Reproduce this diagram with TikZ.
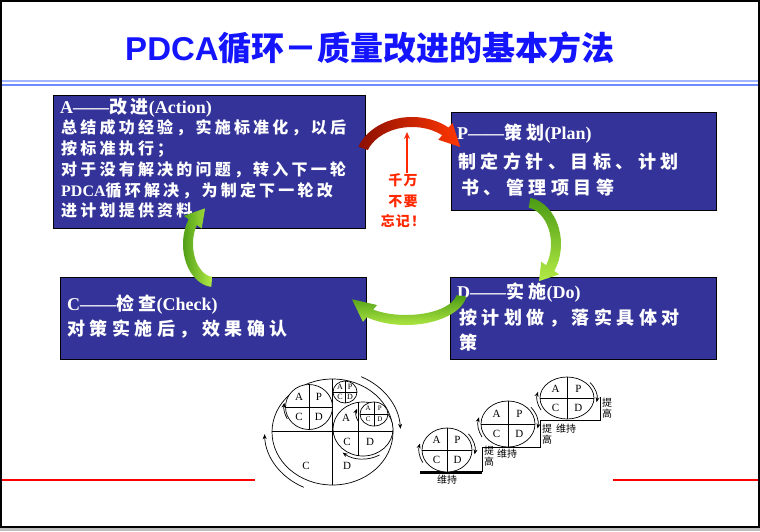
\documentclass[tikz,border=0pt]{standalone}
\usepackage{fontspec}
\setmainfont{Liberation Serif}
\newfontfamily\lsans{Liberation Sans}
\newfontfamily\cjk{Noto Sans CJK SC}
\newfontfamily\cjkA{Noto Sans CJK SC}[LetterSpace=20]
\newfontfamily\cjkB{Noto Sans CJK SC}[LetterSpace=25]
\newfontfamily\cjkR{Noto Sans CJK SC}[LetterSpace=8]
\usetikzlibrary{calc,arrows.meta}
\definecolor{boxblue}{RGB}{51,51,153}
\definecolor{titleblue}{RGB}{20,20,255}
\definecolor{redtxt}{RGB}{255,40,0}
\definecolor{rdark}{RGB}{140,15,0}
\definecolor{rlight}{RGB}{255,55,0}
\definecolor{gdark}{RGB}{75,155,20}
\definecolor{glight}{RGB}{180,235,70}
\definecolor{lineblueA}{RGB}{160,180,255}
\definecolor{lineblueB}{RGB}{110,140,255}
\newcommand\zA[1]{{\cjkA #1}}
\newcommand\zB[1]{{\cjkB #1}}
\newcommand\ribbon[7]{%
  \pgfmathsetmacro\rbox{#3+5}\pgfmathsetmacro\rboy{#4+5}%
  \pgfmathsetmacro\rbix{#3-5}\pgfmathsetmacro\rbiy{#4-5}%
  \pgfmathsetmacro\rbwx{#3+11}\pgfmathsetmacro\rbwy{#4+11}%
  \pgfmathsetmacro\rbvx{#3-11}\pgfmathsetmacro\rbvy{#4-11}%
  \shade[#1] ($(#2)+(#5:{\rbox} and {\rboy})$)
    arc[start angle=#5, end angle=#6, x radius=\rbox, y radius=\rboy]
    -- ($(#2)+(#6:{\rbwx} and {\rbwy})$)
    -- ($(#2)+(#7:{#3} and {#4})$)
    -- ($(#2)+(#6:{\rbvx} and {\rbvy})$)
    -- ($(#2)+(#6:{\rbix} and {\rbiy})$)
    arc[start angle=#6, end angle=#5, x radius=\rbix, y radius=\rbiy] -- cycle;}
\newcommand\pdcacirc[6]{%
  \coordinate (#1) at (#2,#3);
  \draw[ln, fill=white] (#1) ellipse[x radius=#4, y radius=#5];
  \draw[ln] ($(#1)+(-#4,0)$) -- ($(#1)+(#4,0)$);
  \draw[ln] ($(#1)+(0,-#5)$) -- ($(#1)+(0,#5)$);
  \pgfmathsetmacro\pcx{#4*0.42}\pgfmathsetmacro\pcy{#5*0.45}%
  \node[dl, font=\fontsize{#6}{#6}\selectfont] (#1A) at ($(#1)+(-\pcx,-\pcy)$) {A};
  \node[dl, font=\fontsize{#6}{#6}\selectfont] (#1P) at ($(#1)+(\pcx,-\pcy)$) {P};
  \node[dl, font=\fontsize{#6}{#6}\selectfont] (#1C) at ($(#1)+(-\pcx,\pcy)$) {C};
  \node[dl, font=\fontsize{#6}{#6}\selectfont] (#1D) at ($(#1)+(\pcx,\pcy)$) {D};}
\begin{document}
\begin{tikzpicture}[x=1pt,y=-1pt,
  box/.style={draw=black, line width=1pt, fill=boxblue, anchor=north west, inner sep=0pt},
  wa/.style={anchor=base west, text=white, inner sep=0pt, font=\bfseries\fontsize{16}{16}\selectfont},
  wb/.style={anchor=base west, text=white, inner sep=0pt, font=\bfseries\fontsize{18}{18}\selectfont},
  redt/.style={text=redtxt, inner sep=0pt, font=\cjkR\bfseries\fontsize{14}{14}\selectfont},
  ln/.style={line width=0.7pt},
  arr/.style={-{Stealth[length=5pt,width=4pt]}},
  dl/.style={inner sep=0pt},
  dz/.style={inner sep=0pt, align=center, font=\cjk\fontsize{10}{11}\selectfont},
  redrib/.style={left color=rdark, right color=rlight},
  grib/.style={top color=gdark, bottom color=glight},
  grib2/.style={left color=gdark, right color=glight}]
\useasboundingbox (0,0) rectangle (760,531);
% frame
\fill[gray!50] (0,526) rectangle (760,531);
\draw[black, line width=1.5pt] (1,1) rectangle (759,527);
% title
\node[anchor=base, text=titleblue, inner sep=0pt] (title) at (370,60)
  {\fontsize{33}{33}\selectfont\bfseries{\lsans PDCA}{\cjk 循环－质量改进的基本方法}};
\draw[lineblueA, line width=2pt] (2,81) -- (758,81);
\draw[lineblueB, line width=2pt] (2,85) -- (758,85);
% boxes
\node[box, minimum width=312pt, minimum height=133pt] (A) at (53,95) {};
\node[box, minimum width=265pt, minimum height=98pt] (P) at (451,112) {};
\node[box, minimum width=306pt, minimum height=82pt] (C) at (60,277) {};
\node[box, minimum width=266pt, minimum height=82pt] (D) at (450,277) {};
% A text
\node[wb] (a1) at (60,113) {A——\zA{改进}(Action)};
\node[wa] (a2) at (61,133) {\zA{总结成功经验，实施标准化，以后}};
\node[wa] (a3) at (61,154) {\zA{按标准执行；}};
\node[wa] (a4) at (61,175) {\zA{对于没有解决的问题，转入下一轮}};
\node[wa] (a5) at (61,196) {PDCA\zA{循环解决，为制定下一轮改}};
\node[wa] (a6) at (61,216) {\zA{进计划提供资料。}};
% P text
\node[wb] (p1) at (457,139) {P——\zB{策划}(Plan)};
\node[wb] (p2) at (458,168) {\zB{制定方针、目标、计划}};
\node[wb] (p3) at (461,194) {\zB{书、管理项目等}};
% C text
\node[wb] (c1) at (67,310) {C——\zB{检查}(Check)};
\node[wb] (c2) at (67,335) {\zB{对策实施后，效果确认}};
% D text
\node[wb] (d1) at (457,298) {D——\zB{实施}(Do)};
\node[wb] (d2) at (459,324) {\zB{按计划做，落实具体对}};
\node[wb] (d3) at (459,349) {\zB{策}};
% red note
\node[redt] (r1) at (403,180) {千万};
\node[redt] (r2) at (403,201) {不要};
\node[redt] (r3) at (403,221) {忘记！};
\coordinate (rtip) at (407,132);
\draw[redtxt, line width=1.3pt, -{Stealth[length=7pt,width=6pt]}] (r1.north -| rtip) -- (rtip);
% ribbon arrows
\coordinate (rc) at (412,162);
\ribbon{redrib}{rc}{52}{40}{200}{310}{338}
\coordinate (gpd) at (524,244);
\ribbon{grib}{gpd}{32}{42}{-80}{35}{62}
\coordinate (gdc) at (406,292);
\ribbon{grib}{gdc}{56}{28}{8}{130}{165}
\coordinate (gca) at (214,244);
\ribbon{grib2}{gca}{26}{38}{95}{215}{250}
% red lines
\draw[red, line width=1.6pt] (2,480) -- (255,480);
\draw[red, line width=1.6pt] (613,480) -- (758,480);
% big PDCA diagram
\coordinate (bg) at (332.5,432);
\draw[ln] (bg) ellipse[x radius=60.5, y radius=53];
\draw[ln] (272,431) -- (393,431);
\draw[ln] (332.5,379) -- (332.5,485);
\node[dl, font=\fontsize{11}{11}\selectfont] (bgC) at (306,466) {C};
\node[dl, font=\fontsize{11}{11}\selectfont] (bgD) at (347,466) {D};
\pdcacirc{tl}{309}{407}{23.5}{22.5}{11}
\pdcacirc{ts}{345}{392}{12}{11}{8}
\coordinate (rcirc) at (363,429);
\draw[ln, fill=white] (rcirc) ellipse[x radius=30, y radius=27];
\draw[ln] (333,431) -- (393,431);
\draw[ln] (358,402) -- (358,456);
\node[dl, font=\fontsize{11}{11}\selectfont] (rcA) at (346,418) {A};
\node[dl, font=\fontsize{11}{11}\selectfont] (rcC) at (347,442) {C};
\node[dl, font=\fontsize{11}{11}\selectfont] (rcD) at (370,442) {D};
\pdcacirc{tn}{374}{414}{14}{12}{7}
\draw[ln, arr] ($(bg)+(295:68 and 61)$) arc[start angle=295, end angle=357, x radius=68, y radius=61];
\draw[ln, arr] ($(bg)+(115:68 and 61)$) arc[start angle=115, end angle=178, x radius=68, y radius=61];
\draw[ln, arr] ($(rcirc)+(60:33 and 30)$) arc[start angle=60, end angle=128, x radius=33, y radius=30];
\draw[ln, arr] ($(tl)+(150:25 and 24)$) arc[start angle=150, end angle=190, x radius=25, y radius=24];
\draw[ln, arr] ($(tn)+(150:18 and 15)$) arc[start angle=150, end angle=200, x radius=18, y radius=15];
% staircase diagram
\draw[line width=2.2pt] (420,472.5) -- (482,472.5);
\draw[ln] (482,472) -- (482,447) -- (540,447) -- (540,420) -- (600,420) -- (600,397);
\pdcacirc{sa}{447}{450}{25}{22}{11}
\pdcacirc{sb}{508}{424}{27}{23}{11}
\pdcacirc{sc}{567}{398}{27}{21}{11}
\foreach \c/\rx/\ry in {sa/28/25, sb/30/26, sc/30/24}{
  \draw[ln, arr] ($(\c)+(150:{\rx} and {\ry})$) arc[start angle=150, end angle=195, x radius=\rx, y radius=\ry];
  \draw[ln, arr] ($(\c)+(-40:{\rx} and {\ry})$) arc[start angle=-40, end angle=10, x radius=\rx, y radius=\ry];
}
\node[dz] (w1) at (447,480) {维持};
\node[dz] (t1) at (489,456) {提\\高};
\node[dz] (w2) at (507,454) {维持};
\node[dz] (t2) at (547,434) {提\\高};
\node[dz] (w3) at (566,429) {维持};
\node[dz] (t3) at (607,408) {提\\高};
\end{tikzpicture}
\end{document}
